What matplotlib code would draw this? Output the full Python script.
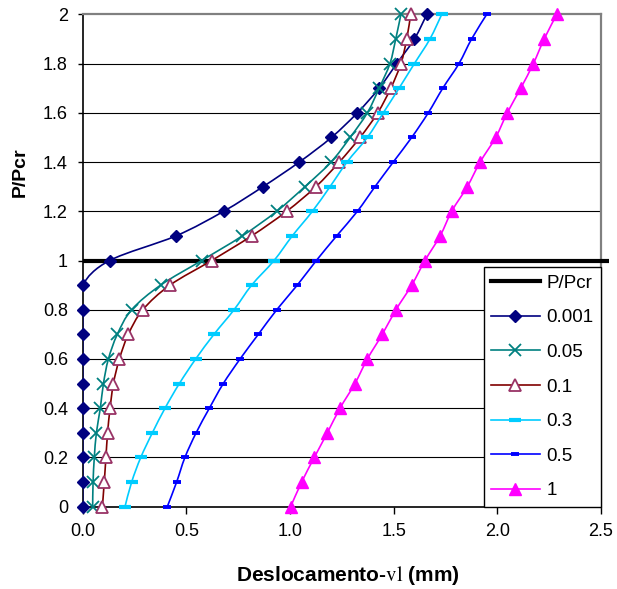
import matplotlib
matplotlib.use("Agg")
import matplotlib.pyplot as plt
from matplotlib.path import Path
from matplotlib.patches import PathPatch
from matplotlib.lines import Line2D
import numpy as np

plt.rcParams['font.family'] = ['Liberation Sans', 'DejaVu Sans']
plt.rcParams['mathtext.fontset'] = 'stix'

# ---- data ----
p_ratio = [0.0, 0.1, 0.2, 0.3, 0.4, 0.5, 0.6, 0.7, 0.8, 0.9, 1.0,
           1.1, 1.2, 1.3, 1.4, 1.5, 1.6, 1.7, 1.8, 1.9, 2.0]

pcr_x = [0.0, 2.54]
pcr_y = [1.0, 1.0]

x_0001 = [0.0, 0.0, 0.0, 0.0, 0.0, 0.0, 0.0, 0.0, 0.0, 0.0, 0.13,
          0.45, 0.68, 0.87, 1.045, 1.20, 1.325, 1.43, 1.515, 1.60, 1.66]
x_005 = [0.048, 0.050, 0.056, 0.066, 0.085, 0.100, 0.124, 0.167, 0.236, 0.376, 0.574,
         0.77, 0.936, 1.072, 1.198, 1.29, 1.373, 1.43, 1.482, 1.51, 1.535]
x_01 = [0.095, 0.104, 0.112, 0.120, 0.132, 0.148, 0.177, 0.220, 0.290, 0.421, 0.622,
        0.815, 0.984, 1.125, 1.238, 1.338, 1.423, 1.486, 1.535, 1.563, 1.582]
x_03 = [0.204, 0.236, 0.280, 0.336, 0.397, 0.466, 0.545, 0.633, 0.730, 0.815, 0.923,
        1.011, 1.108, 1.193, 1.275, 1.373, 1.450, 1.526, 1.600, 1.675, 1.732]
x_05 = [0.408, 0.453, 0.493, 0.547, 0.611, 0.678, 0.759, 0.847, 0.936, 1.035, 1.127,
        1.225, 1.325, 1.410, 1.498, 1.587, 1.667, 1.737, 1.815, 1.876, 1.949]
x_1 = [1.003, 1.056, 1.117, 1.180, 1.241, 1.313, 1.373, 1.445, 1.511, 1.587, 1.651,
       1.724, 1.780, 1.855, 1.917, 1.992, 2.048, 2.113, 2.174, 2.226, 2.287]

series_labels = ['0.001', '0.05', '0.1', '0.3', '0.5', '1']
x_ticks = [0.0, 0.5, 1.0, 1.5, 2.0, 2.5]
y_ticks = [0.0, 0.2, 0.4, 0.6, 0.8, 1.0, 1.2, 1.4, 1.6, 1.8, 2.0]
y_tick_labels = ['0', '0.2', '0.4', '0.6', '0.8', '1', '1.2', '1.4', '1.6', '1.8', '2']

# ---- styles ----
styles = [
    dict(color='#000080', marker='D', ms=6.0, mfc='#000080', mec='#000080', mew=1.0),
    dict(color='#008080', marker='x', ms=8, mfc='none', mec='#008080', mew=1.3),
    dict(color='#800000', marker='^', ms=8.5, mfc='white', mec='#993366', mew=1.3),
    dict(color='#00CCFF', marker='_', ms=9, mfc='#00CCFF', mec='#00CCFF', mew=3.0),
    dict(color='#0000FF', marker='_', ms=5.5, mfc='#0000FF', mec='#0000FF', mew=2.8),
    dict(color='#FF00FF', marker='^', ms=8, mfc='#FF00FF', mec='#FF00FF', mew=1.0),
]
series_x = [x_0001, x_005, x_01, x_03, x_05, x_1]

W, H = 617, 589
fig = plt.figure(figsize=(W / 100, H / 100), dpi=100)
L, R, T, B = 82.7, 601.0, 14.3, 506.7
ax = fig.add_axes([L / W, 1 - B / H, (R - L) / W, (B - T) / H])
ax.set_xlim(0, 2.5)
ax.set_ylim(0, 2)


def smooth_path(xs, ys):
    """Catmull-Rom style Bezier path through the data points (Excel smoothed line)."""
    pts = np.column_stack([xs, ys]).astype(float)
    n = len(pts)
    verts = [pts[0]]
    codes = [Path.MOVETO]
    for i in range(n - 1):
        p0 = pts[i - 1] if i > 0 else pts[i]
        p1 = pts[i]
        p2 = pts[i + 1]
        p3 = pts[i + 2] if i + 2 < n else pts[i + 1]
        c1 = p1 + (p2 - p0) / 6.0
        c2 = p2 - (p3 - p1) / 6.0
        verts += [c1, c2, p2]
        codes += [Path.CURVE4] * 3
    return Path(verts, codes)


# gridlines
for yv in y_ticks[1:-1]:
    ax.axhline(yv, color='black', lw=0.8, zorder=1)

# P/Pcr line
ax.plot(pcr_x, pcr_y, color='black', lw=3.0, zorder=3, clip_on=False,
        solid_capstyle='butt')

handles = [Line2D([], [], color='black', lw=3.0)]
z = 4
for xs, st, lab in zip(series_x, styles, series_labels):
    patch = PathPatch(smooth_path(xs, p_ratio), facecolor='none',
                      edgecolor=st['color'], lw=1.2, zorder=z)
    ax.add_patch(patch)
    ax.plot(xs, p_ratio, linestyle='none', marker=st['marker'], ms=st['ms'],
            mfc=st['mfc'], mec=st['mec'], mew=st['mew'], zorder=z + 0.5,
            clip_on=False)
    handles.append(Line2D([], [], color=st['color'], lw=1.2, marker=st['marker'],
                          ms=st['ms'], mfc=st['mfc'], mec=st['mec'], mew=st['mew']))
    z += 1

# spines
for s in ['left', 'bottom']:
    ax.spines[s].set_color('black')
    ax.spines[s].set_linewidth(1.2)
for s in ['top', 'right']:
    ax.spines[s].set_color('#808080')
    ax.spines[s].set_linewidth(1.6)
for s in ax.spines.values():
    s.set_zorder(2)

ax.set_xticks(x_ticks)
ax.set_xticklabels([f'{v:.1f}' for v in x_ticks])
ax.set_yticks(y_ticks)
ax.set_yticklabels(y_tick_labels)
ax.tick_params(axis='x', direction='out', length=5, width=1, pad=7, labelsize=13)
ax.tick_params(axis='y', direction='out', length=3.6, width=1, pad=7, labelsize=13)
ax.tick_params(top=False, right=False)

leg = ax.legend(handles, ['P/Pcr'] + series_labels, loc='lower right',
                bbox_to_anchor=(1.0, 0.0), borderaxespad=0.0, frameon=True,
                fancybox=False, framealpha=1.0, edgecolor='black', fontsize=13.5,
                handlelength=2.6, handletextpad=0.35, labelspacing=0.93,
                borderpad=0.4)
leg.get_frame().set_linewidth(1.0)
leg.set_zorder(20)

fig.text(348 / W, 1 - 581 / H, r'Deslocamento-$\mathrm{vl}$ (mm)', ha='center',
         va='baseline', fontsize=15, fontweight='bold')
fig.text(20 / W, 1 - 172 / H, 'P/Pcr', ha='center', va='center', rotation=90,
         fontsize=14, fontweight='bold')

fig.savefig('out.png', dpi=100)
